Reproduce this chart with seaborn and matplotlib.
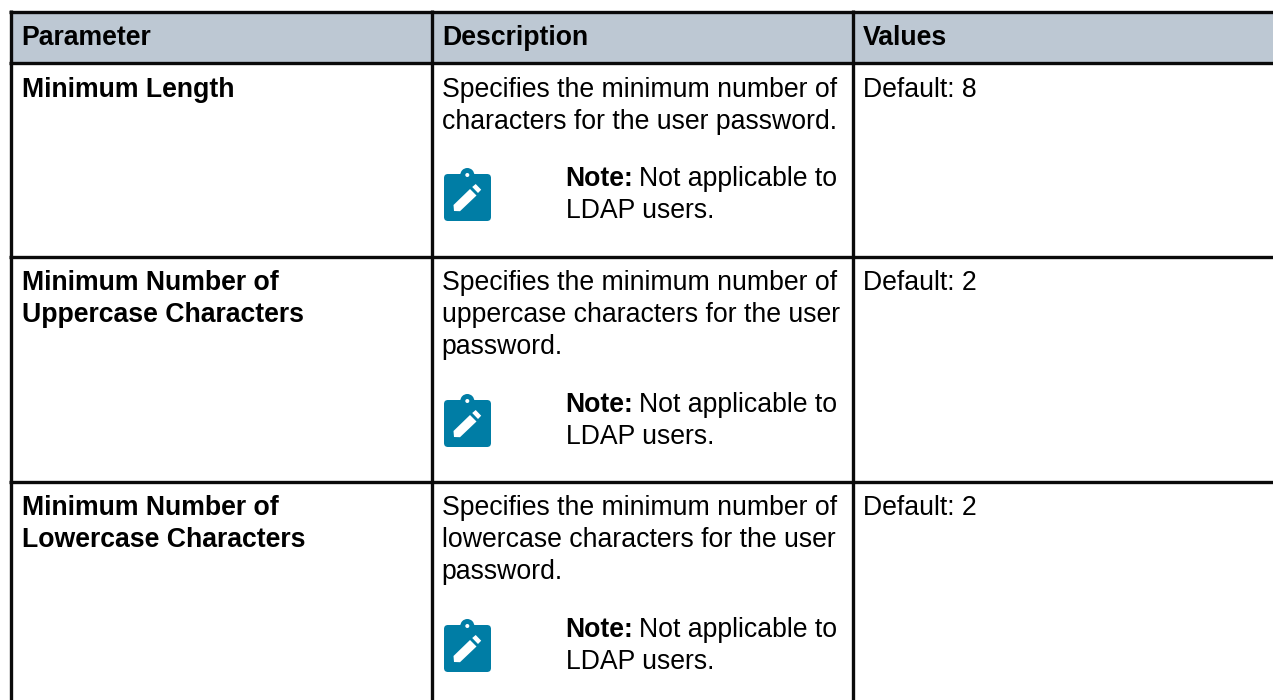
import matplotlib
matplotlib.use("Agg")
import matplotlib.pyplot as plt
from matplotlib.patches import Circle, FancyBboxPatch, Polygon, Rectangle
import seaborn as sns

HEADERS = ["Parameter", "Description", "Values"]
PARAMETERS = [
    ["Minimum Length"],
    ["Minimum Number of", "Uppercase Characters"],
    ["Minimum Number of", "Lowercase Characters"],
]
DESCRIPTIONS = [
    ["Specifies the minimum number of", "characters for the user password."],
    ["Specifies the minimum number of", "uppercase characters for the user", "password."],
    ["Specifies the minimum number of", "lowercase characters for the user", "password."],
]
NOTE_LABEL = "Note:"
NOTE_TEXT = ["Not applicable to", "LDAP users."]
VALUES = ["Default: 8", "Default: 2", "Default: 2"]

# layout in reference pixels
W, H = 1273, 700
COL_LINES = [11, 432, 852.7]
TEXT_X = [21.6, 441.8, 862.8]
ROW_LINES = [11.5, 63.3, 257.3, 482.3]
HEADER_BASE = 45
ROW_BASE = [97, 290, 515]
NOTE_BASE = [186, 412, 637]
LEAD = 32
FS = 19.2
HEADER_FC = "#BDC8D3"
ICON_FC = "#007DA5"
INK = "#0A0A0A"

sns.set_theme(style="white")
plt.rcParams["font.family"] = ["Liberation Sans", "DejaVu Sans"]

fig = plt.figure(figsize=(W / 100, H / 100), dpi=100, facecolor="white")
ax = fig.add_axes([0, 0, 1, 1])
ax.set_xlim(0, W)
ax.set_ylim(H, 0)
ax.axis("off")


def draw_icon(top):
    left = 444
    ax.add_patch(Circle((left + 23.3, top + 1), 7, fc=ICON_FC, ec="none"))
    ax.add_patch(FancyBboxPatch((left + 3, top + 3), 41, 41,
                                boxstyle="round,pad=3,rounding_size=4",
                                fc=ICON_FC, ec="none"))
    ax.add_patch(Circle((left + 23.3, top + 1), 2, fc="white", ec="none"))
    body = [(10, 37), (9.5, 31), (26, 15), (32.5, 21.5), (16, 37.2)]
    cap = [(28.2, 13), (31.7, 10), (37.2, 15.7), (34, 19)]
    ax.add_patch(Polygon([(left + x, top + y) for x, y in body], fc="white", ec="none"))
    ax.add_patch(Polygon([(left + x, top + y) for x, y in cap], fc="white", ec="none"))


ax.add_patch(Rectangle((COL_LINES[0], ROW_LINES[0]), W - COL_LINES[0],
                       ROW_LINES[1] - ROW_LINES[0], fc=HEADER_FC, ec="none"))

for y in ROW_LINES:
    ax.plot([COL_LINES[0] - 1.6, W], [y, y], color=INK, lw=2.4, solid_capstyle="butt")
for x in COL_LINES:
    ax.plot([x, x], [ROW_LINES[0] - 1.6, H], color=INK, lw=2.4, solid_capstyle="butt")

for x, label in zip(TEXT_X, HEADERS):
    ax.text(x, HEADER_BASE, label, fontsize=FS, fontweight="bold", color="black", va="baseline")

renderer = fig.canvas.get_renderer()
for i in range(3):
    for j, line in enumerate(PARAMETERS[i]):
        ax.text(TEXT_X[0], ROW_BASE[i] + j * LEAD, line, fontsize=FS, fontweight="bold",
                color="black", va="baseline")
    for j, line in enumerate(DESCRIPTIONS[i]):
        ax.text(TEXT_X[1], ROW_BASE[i] + j * LEAD, line, fontsize=FS, color="black", va="baseline")
    ax.text(TEXT_X[2], ROW_BASE[i], VALUES[i], fontsize=FS, color="black", va="baseline")

    draw_icon(NOTE_BASE[i] - 12)
    bold = ax.text(565.5, NOTE_BASE[i], NOTE_LABEL, fontsize=FS, fontweight="bold",
                   color="black", va="baseline")
    end = bold.get_window_extent(renderer).x1
    ax.text(end + 6, NOTE_BASE[i], NOTE_TEXT[0], fontsize=FS, color="black", va="baseline")
    ax.text(565.5, NOTE_BASE[i] + LEAD, NOTE_TEXT[1], fontsize=FS, color="black", va="baseline")

fig.savefig("out.png", dpi=100, facecolor="white")
plt.close(fig)
